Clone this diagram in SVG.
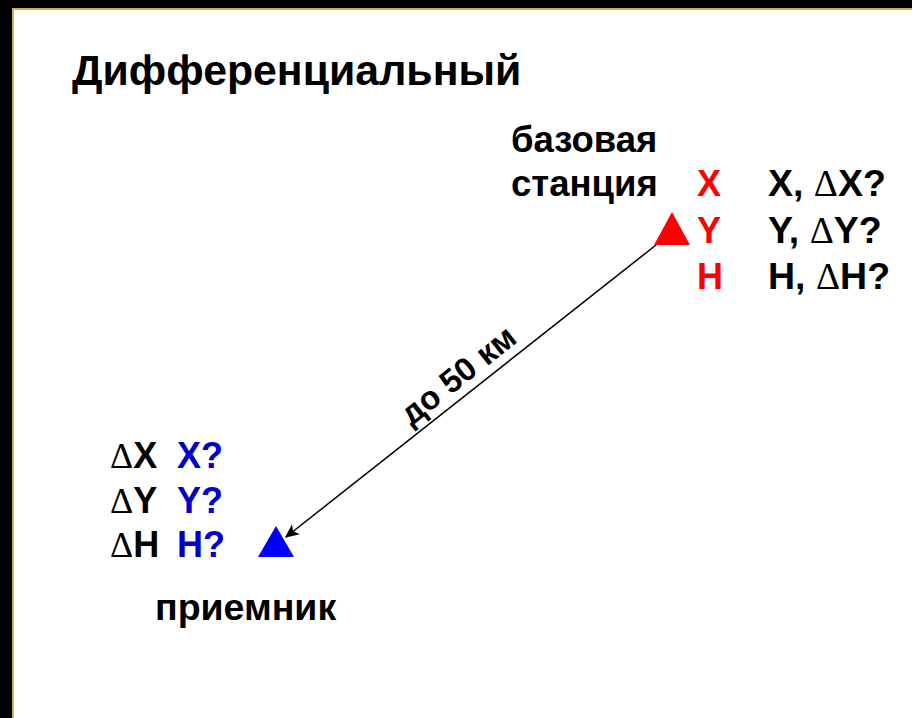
<svg xmlns="http://www.w3.org/2000/svg" width="912" height="718" viewBox="0 0 912 718">
<defs>
<style>
text{font-family:"Liberation Sans",Arial,sans-serif;font-weight:bold;font-size:36px;fill:#000}
.red{fill:#FF0000}
.blue{fill:#0000CC}
.d{font-family:"Liberation Serif","Times New Roman",serif;font-weight:normal}
.conn{stroke:#000;stroke-width:1.5;fill:none}
</style>
<marker id="arr" viewBox="0 0 10 10" refX="9" refY="5" markerWidth="15" markerHeight="14" markerUnits="userSpaceOnUse" orient="auto">
<path d="M0,0.5 L10,5 L0,9.5 L2.5,5 z" fill="#000"/>
</marker>
</defs>
<rect x="0" y="0" width="912" height="718" fill="#fff"/>
<rect x="0" y="0" width="912" height="8" fill="#000"/>
<rect x="0" y="0" width="12" height="718" fill="#000"/>
<rect x="12" y="8" width="900" height="2" fill="#C9B162"/>
<rect x="12" y="8" width="2" height="710" fill="#C9B162"/>

<g id="title"><text x="72" y="85" style="font-size:42.8px">Дифференциальный</text></g>

<g id="connectors">
<line class="conn" x1="656" y1="245" x2="286" y2="537" marker-end="url(#arr)"/>
<text transform="translate(465,384) rotate(-38.4)" text-anchor="middle" style="font-size:33px">до 50 км</text>
</g>

<g id="base-station">
<text x="511" y="152" style="font-size:36.5px">базовая</text>
<text x="511" y="196" style="font-size:36.5px">станция</text>
<polygon points="654,245 690,245 672,212" fill="#FF0000"/>
<text class="red" x="697" y="196">X</text>
<text class="red" x="697" y="243">Y</text>
<text class="red" x="697" y="289">H</text>
<text x="768" y="196" style="font-size:37.5px">X, <tspan class="d">Δ</tspan>X?</text>
<text x="768" y="243" style="font-size:37.5px">Y, <tspan class="d">Δ</tspan>Y?</text>
<text x="768" y="289" style="font-size:37.5px">H, <tspan class="d">Δ</tspan>H?</text>
</g>

<g id="receiver">
<polygon points="258,557 294,557 276,526" fill="#0000FF"/>
<text x="110" y="468"><tspan class="d">Δ</tspan>X</text>
<text x="110" y="513"><tspan class="d">Δ</tspan>Y</text>
<text x="110" y="557"><tspan class="d">Δ</tspan>H</text>
<text class="blue" x="177" y="468">X?</text>
<text class="blue" x="177" y="513">Y?</text>
<text class="blue" x="177" y="557">H?</text>
<text x="155" y="620" style="font-size:37.5px">приемник</text>
</g>
</svg>
